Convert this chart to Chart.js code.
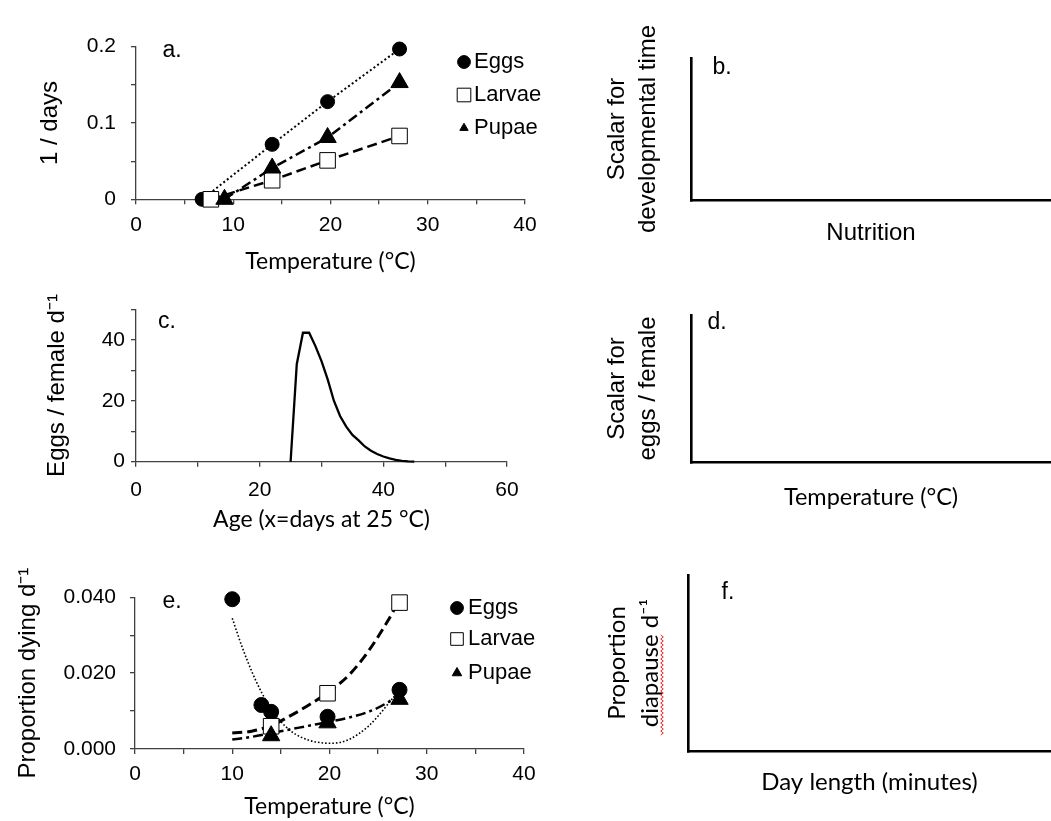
<!DOCTYPE html>
<html>
<head>
<meta charset="utf-8">
<title>Stage development, fecundity and mortality</title>
<script src="https://cdn.jsdelivr.net/npm/chart.js@4.4.1/dist/chart.umd.min.js"></script>
<style>
  html, body { margin: 0; padding: 0; background: #fff; }
  #page { position: relative; width: 1051px; height: 821px; overflow: hidden; background: #fff; }
  canvas { position: absolute; }
</style>
</head>
<body>
<div id="page">
  <canvas id="panelA"></canvas>
  <canvas id="panelB"></canvas>
  <canvas id="panelC"></canvas>
  <canvas id="panelD"></canvas>
  <canvas id="panelE"></canvas>
  <canvas id="panelF"></canvas>
</div>
<script>
// ---------- data ----------
const stages = ['Eggs', 'Larvae', 'Pupae'];

// a. development rate (1/days) vs temperature
const aEggsTemp = [6.8, 14, 19.7, 27.1];
const aEggsRate = [0, 0.072, 0.128, 0.197];
const aLarvaeTemp = [7.7, 14, 19.7, 27.1];
const aLarvaeRate = [0, 0.025, 0.051, 0.083];
const aPupaeTemp = [9.1, 14, 19.7, 27.1];
const aPupaeRate = [0, 0.041, 0.081, 0.153];
const aTempTicks = [0, 10, 20, 30, 40];
const aRateTicks = [0, 0.1, 0.2];
const aRateTickText = ['0', '0.1', '0.2'];

// c. eggs per female per day vs age
const cAge = [25, 26, 27, 28, 29, 30, 31, 32, 33, 34, 35, 36, 37, 38, 39, 40, 41, 42, 43, 44, 45];
const cEggs = [0, 32, 42.3, 42.3, 38, 33, 27, 20, 15, 11.5, 8.8, 7, 5, 3.6, 2.5, 1.7, 1.1, 0.6, 0.3, 0.1, 0];
const cAgeTicks = [0, 20, 40, 60];
const cEggTicks = [0, 20, 40];

// e. proportion dying per day vs temperature
const eEggsTemp = [10, 13, 14, 19.8, 27.2];
const eEggsDeath = [0.0395, 0.0116, 0.0098, 0.0085, 0.0156];
const eLarvaeTemp = [14, 19.8, 27.2];
const eLarvaeDeath = [0.006, 0.0147, 0.0386];
const ePupaeTemp = [14, 19.8, 27.2];
const ePupaeDeath = [0.0035, 0.0069, 0.0131];
// fitted trend curves
const eEggsFitTemp = [10, 11, 12, 13, 14, 15, 16, 17, 18, 19, 20, 21, 22, 23, 24, 25, 26, 26.7];
const eEggsFit = [0.0345, 0.027, 0.0205, 0.015, 0.0105, 0.0072, 0.0048, 0.0032, 0.0022, 0.0017, 0.0015, 0.0017, 0.0025, 0.004, 0.006, 0.0087, 0.0118, 0.014];
const eFitTemp = [10, 12, 14, 16, 18, 20, 22, 24, 26, 26.7];
const eLarvaeFit = [0.0042, 0.0047, 0.0062, 0.0088, 0.0118, 0.0152, 0.0195, 0.0258, 0.0338, 0.037];
const ePupaeFit = [0.0025, 0.0032, 0.0042, 0.0052, 0.0062, 0.0072, 0.0083, 0.0098, 0.0123, 0.0136];
const eTempTicks = [0, 10, 20, 30, 40];
const eDeathTicks = [0, 0.02, 0.04];
const eDeathTickText = ['0.000', '0.020', '0.040'];

// ---------- helpers ----------
const ARIAL = '"Liberation Sans", Arial, sans-serif';
const CAL = 'Lato, "Open Sans", sans-serif';
const GREY = '#404040';

const zip = (xs, ys) => xs.map((x, i) => ({ x, y: ys[i] }));

function pickLabel(values, texts) {
  return v => {
    const i = values.findIndex(t => Math.abs(t - v) < 1e-9);
    return i >= 0 ? texts[i] : '';
  };
}

function place(id, cv) {
  const el = document.getElementById(id);
  el.width = cv.w;
  el.height = cv.h;
  el.style.left = cv.x + 'px';
  el.style.top = cv.y + 'px';
  return el;
}

// works out padding and axis box sizes so the plot area lands where it is in the figure
function frame(cv, plot, yT, xT) {
  const left = yT.cx - cv.x - yT.lh / 2;
  const bottom = xT.cy - cv.y + xT.lh / 2;
  return {
    padding: { left, top: plot.top - cv.y, right: cv.x + cv.w - plot.right, bottom: cv.h - bottom },
    yWidth: plot.left - cv.x - left,
    xHeight: bottom - (plot.bottom - cv.y)
  };
}

function axis(size, cfg) {
  const bare = !cfg.ticks;
  return {
    type: 'linear',
    min: cfg.min,
    max: cfg.max,
    afterFit: s => { if (s.isHorizontal()) s.height = size; else s.width = size; },
    border: { display: true, color: cfg.color || GREY, width: cfg.width || 1.3 },
    grid: { display: !bare, drawOnChartArea: false, drawTicks: true, tickLength: 5,
            color: cfg.color || GREY, lineWidth: cfg.width || 1.3 },
    ticks: bare ? { display: false } : {
      stepSize: cfg.step, autoSkip: false, maxRotation: 0, padding: cfg.pad, color: '#000',
      font: { family: ARIAL, size: 21, lineHeight: 1.2 },
      callback: pickLabel(cfg.ticks, cfg.tickText || cfg.ticks.map(String))
    },
    title: { display: true, text: cfg.title, color: '#000', padding: 0, font: cfg.font }
  };
}

function drawMarker(ctx, style, x, y, r, fill) {
  ctx.beginPath();
  if (style === 'circle') {
    ctx.arc(x, y, r, 0, Math.PI * 2);
  } else if (style === 'rect') {
    ctx.rect(x - r, y - r, 2 * r, 2 * r);
  } else {
    ctx.moveTo(x, y - r);
    ctx.lineTo(x + r * 0.866, y + r * 0.5);
    ctx.lineTo(x - r * 0.866, y + r * 0.5);
    ctx.closePath();
  }
  ctx.fillStyle = fill;
  ctx.fill();
  ctx.lineWidth = 1;
  ctx.strokeStyle = '#000';
  ctx.stroke();
}

// panel letter, hand placed legend, spell-check squiggle
const decor = {
  id: 'decor',
  afterDraw(chart, args, o) {
    const ctx = chart.ctx;
    ctx.save();
    ctx.textBaseline = 'middle';
    if (o.tag) {
      ctx.font = '23px ' + ARIAL;
      ctx.fillStyle = '#000';
      ctx.textAlign = 'center';
      ctx.fillText(o.tag[0], o.tag[1], o.tag[2]);
    }
    if (o.legend) {
      const L = o.legend;
      L.items.forEach((name, i) => {
        const ds = chart.data.datasets.find(d => d.label === name);
        drawMarker(ctx, ds.pointStyle, L.x, L.y[i], L.r[i], ds.pointBackgroundColor);
        ctx.font = '22px ' + ARIAL;
        ctx.fillStyle = '#000';
        ctx.textAlign = 'left';
        ctx.fillText(name, L.textX, L.y[i]);
      });
    }
    if (o.squiggle) {
      const q = o.squiggle;
      ctx.beginPath();
      for (let y = q.y0, k = 0; y <= q.y1; y += 2, k++) {
        const x = q.x + (k % 2 ? 1.3 : -1.3);
        if (k === 0) ctx.moveTo(x, y); else ctx.lineTo(x, y);
      }
      ctx.strokeStyle = '#e8262a';
      ctx.lineWidth = 1;
      ctx.stroke();
    }
    ctx.restore();
  }
};

const markers = {
  Eggs: { pointStyle: 'circle', pointRadius: 7, pointBackgroundColor: '#000' },
  Larvae: { pointStyle: 'rect', pointRadius: 11, pointBackgroundColor: '#fff' },
  Pupae: { pointStyle: 'triangle', pointRadius: 10, pointBackgroundColor: '#000' }
};

function stageSet(name, data, extra) {
  return Object.assign({
    label: name, data, clip: false, borderColor: '#000', pointBorderColor: '#000',
    pointBorderWidth: 1, pointHoverRadius: 0, tension: 0
  }, markers[name], extra);
}

function fitSet(data, width, dash) {
  return { label: 'fit', data, showLine: true, borderColor: '#000', borderWidth: width, borderDash: dash,
           pointRadius: 0, cubicInterpolationMode: 'monotone', clip: false, order: 10 };
}

function baseOptions(fr) {
  return {
    responsive: false, animation: false, devicePixelRatio: 1,
    layout: { padding: fr.padding },
    plugins: { legend: { display: false }, tooltip: { enabled: false } }
  };
}

// ---------- a. ----------
{
  const cv = { x: 0, y: 0, w: 560, h: 280 };
  const fr = frame(cv, { left: 136, top: 46.7, right: 525, bottom: 199.3 }, { cx: 50, lh: 28.8 }, { cy: 262, lh: 27.6 });
  const opts = baseOptions(fr);
  opts.scales = {
    x: axis(fr.xHeight, { min: 0, max: 40, step: 5, ticks: aTempTicks, pad: 8, title: 'Temperature (°C)',
                          font: { family: CAL, size: 23, lineHeight: 1.2 } }),
    y: axis(fr.yWidth, { min: 0, max: 0.2, step: 0.05, ticks: aRateTicks, tickText: aRateTickText, pad: 15,
                         title: '1 / days', font: { family: ARIAL, size: 24, lineHeight: 1.2 } })
  };
  opts.plugins.decor = {
    tag: ['a.', 172, 51],
    legend: { items: stages, x: 464, textX: 474, y: [62, 95, 128], r: [6.4, 6.8, 4.8] }
  };
  new Chart(place('panelA', cv), {
    type: 'scatter',
    data: { datasets: [
      stageSet('Eggs', zip(aEggsTemp, aEggsRate), { showLine: true, borderWidth: 2, borderDash: [2, 2.5], order: 3 }),
      stageSet('Larvae', zip(aLarvaeTemp, aLarvaeRate), { showLine: true, borderWidth: 2.5, borderDash: [10, 5], order: 2 }),
      stageSet('Pupae', zip(aPupaeTemp, aPupaeRate), { showLine: true, borderWidth: 2.5, borderDash: [10, 4, 3, 4], order: 1 })
    ] },
    options: opts,
    plugins: [decor]
  });
}

// ---------- c. ----------
{
  const cv = { x: 0, y: 280, w: 560, h: 260 };
  const fr = frame(cv, { left: 136, top: 309.3, right: 507, bottom: 461.7 }, { cx: 57, lh: 28.8 }, { cy: 520, lh: 27.6 });
  const opts = baseOptions(fr);
  opts.scales = {
    x: axis(fr.xHeight, { min: 0, max: 60, step: 10, ticks: cAgeTicks, pad: 11, title: 'Age (x=days at 25 °C)',
                          font: { family: CAL, size: 23, lineHeight: 1.2 } }),
    y: axis(fr.yWidth, { min: 0, max: 50, step: 10, ticks: cEggTicks, pad: 6,
                         title: 'Eggs / female d⁻¹', font: { family: ARIAL, size: 24, lineHeight: 1.2 } })
  };
  opts.plugins.decor = { tag: ['c.', 167, 42] };
  new Chart(place('panelC', cv), {
    type: 'scatter',
    data: { datasets: [{
      label: 'Eggs / female', data: zip(cAge, cEggs), showLine: true, borderColor: '#000',
      borderWidth: 2.3, pointRadius: 0, tension: 0, clip: false
    }] },
    options: opts,
    plugins: [decor]
  });
}

// ---------- e. ----------
{
  const cv = { x: 0, y: 540, w: 560, h: 281 };
  const fr = frame(cv, { left: 135, top: 597.3, right: 524, bottom: 749 }, { cx: 28.6, lh: 28.8 }, { cy: 806.7, lh: 27.6 });
  const opts = baseOptions(fr);
  opts.scales = {
    x: axis(fr.xHeight, { min: 0, max: 40, step: 5, ticks: eTempTicks, pad: 8, title: 'Temperature (°C)',
                          font: { family: CAL, size: 23, lineHeight: 1.2 } }),
    y: axis(fr.yWidth, { min: 0, max: 0.04, step: 0.01, ticks: eDeathTicks, tickText: eDeathTickText, pad: 14,
                         title: 'Proportion dying d⁻¹', font: { family: ARIAL, size: 24, lineHeight: 1.2 } })
  };
  opts.plugins.decor = {
    tag: ['e.', 172, 62],
    legend: { items: stages, x: 457, textX: 468, y: [68, 99, 133], r: [6.4, 6.3, 5.5] }
  };
  new Chart(place('panelE', cv), {
    type: 'scatter',
    data: { datasets: [
      fitSet(zip(eEggsFitTemp, eEggsFit), 1.6, [1.6, 2]),
      fitSet(zip(eFitTemp, eLarvaeFit), 3, [10, 5]),
      fitSet(zip(eFitTemp, ePupaeFit), 2.5, [10, 4, 3, 4]),
      stageSet('Eggs', zip(eEggsTemp, eEggsDeath), { pointRadius: 7.5, order: 3 }),
      stageSet('Larvae', zip(eLarvaeTemp, eLarvaeDeath), { order: 2 }),
      stageSet('Pupae', zip(ePupaeTemp, ePupaeDeath), { order: 1 })
    ] },
    options: opts,
    plugins: [decor]
  });
}

// ---------- b., d., f. : empty axes ----------
function emptyPanel(id, cv, plot, yT, xT, yTitle, yFont, xTitle, xFont, decorOpts) {
  const fr = frame(cv, plot, yT, xT);
  const opts = baseOptions(fr);
  opts.scales = {
    x: axis(fr.xHeight, { min: 0, max: 1, color: '#000', width: 2.6, title: xTitle, font: xFont }),
    y: axis(fr.yWidth, { min: 0, max: 1, color: '#000', width: 2.6, title: yTitle, font: yFont })
  };
  opts.plugins.decor = decorOpts;
  new Chart(place(id, cv), { type: 'scatter', data: { datasets: [] }, options: opts, plugins: [decor] });
}

emptyPanel('panelB', { x: 580, y: 0, w: 471, h: 280 }, { left: 691, top: 58, right: 1051, bottom: 200 },
  { cx: 617, lh: 31.2 }, { cy: 233, lh: 28.8 },
  ['Scalar for', 'developmental time'], { family: ARIAL, size: 24, lineHeight: 1.3 },
  'Nutrition', { family: ARIAL, size: 24, lineHeight: 1.2 },
  { tag: ['b.', 142, 68] });

emptyPanel('panelD', { x: 580, y: 280, w: 471, h: 260 }, { left: 691, top: 315, right: 1051, bottom: 462 },
  { cx: 617, lh: 31.2 }, { cy: 497, lh: 28.2 },
  ['Scalar for', 'eggs / female'], { family: ARIAL, size: 24, lineHeight: 1.3 },
  'Temperature (°C)', { family: CAL, size: 23.5, lineHeight: 1.2 },
  { tag: ['d.', 137, 43] });

emptyPanel('panelF', { x: 580, y: 540, w: 471, h: 281 }, { left: 688, top: 575, right: 1051, bottom: 751 },
  { cx: 617, lh: 33 }, { cy: 782, lh: 28.8 },
  ['Proportion', 'diapause d⁻¹'], { family: CAL, size: 24, lineHeight: 1.375 },
  'Day length (minutes)', { family: CAL, size: 24, lineHeight: 1.2 },
  { tag: ['f.', 148, 53], squiggle: { x: 82, y0: 95, y1: 195 } });
</script>
</body>
</html>
